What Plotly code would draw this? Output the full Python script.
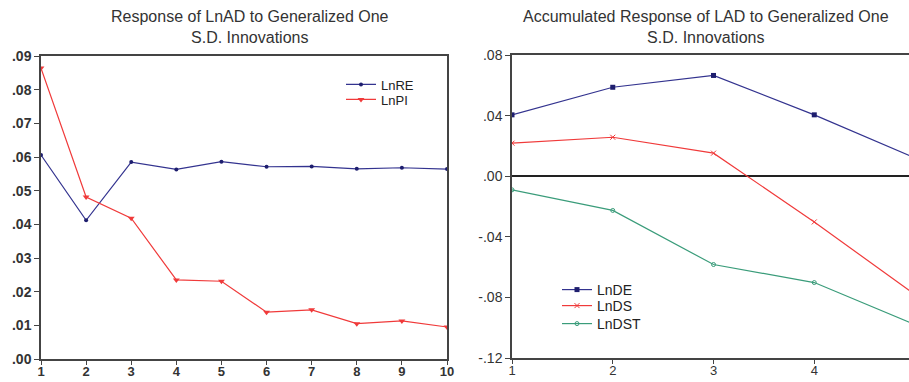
import plotly.graph_objects as go

# ---- data ----
periods_left = [1, 2, 3, 4, 5, 6, 7, 8, 9, 10]
lnre = [0.0606, 0.0412, 0.0585, 0.0563, 0.0586, 0.0571, 0.0572, 0.0565, 0.0568, 0.0564]
lnpi = [0.0864, 0.0481, 0.0418, 0.0235, 0.0231, 0.0139, 0.0146, 0.0105, 0.0113, 0.0095]

periods_right = [1, 2, 3, 4, 5]
lnde = [0.0405, 0.0587, 0.0665, 0.0405, 0.0120]
lnds = [0.0218, 0.0257, 0.0152, -0.0302, -0.0782]
lndst = [-0.0090, -0.0226, -0.0583, -0.0702, -0.0980]

left_yticks = [0.0, 0.01, 0.02, 0.03, 0.04, 0.05, 0.06, 0.07, 0.08, 0.09]
left_yticktext = [".00", ".01", ".02", ".03", ".04", ".05", ".06", ".07", ".08", ".09"]
right_yticks = [-0.12, -0.08, -0.04, 0.0, 0.04, 0.08]
right_yticktext = ["-.12", "-.08", "-.04", ".00", ".04", ".08"]

title_left = "Response of LnAD to Generalized One<br>S.D. Innovations"
title_right = "Accumulated Response of LAD to Generalized One<br>S.D. Innovations"

W, H = 909, 382
def px(x):
    return x / W
def py(y):
    return 1 - y / H

BLUE = "#33338F"
RED = "#F03A3A"
GREEN = "#3A9C7A"
FONT = "Liberation Sans, Arial, sans-serif"

fig = go.Figure()

fig.add_trace(go.Scatter(x=periods_left, y=lnre, name="LnRE", mode="lines+markers",
                         line=dict(color=BLUE, width=1.2),
                         marker=dict(symbol="circle", size=4, color="#1E1E6E"),
                         xaxis="x", yaxis="y", legend="legend"))
fig.add_trace(go.Scatter(x=periods_left, y=lnpi, name="LnPI", mode="lines+markers",
                         line=dict(color=RED, width=1.2),
                         marker=dict(symbol="triangle-down", size=6, color=RED),
                         xaxis="x", yaxis="y", legend="legend2"))

fig.add_trace(go.Scatter(x=periods_right, y=lnde, name="LnDE", mode="lines+markers",
                         line=dict(color=BLUE, width=1.2),
                         marker=dict(symbol="square", size=5, color="#1E1E6E"),
                         xaxis="x2", yaxis="y2", legend="legend3"))
fig.add_trace(go.Scatter(x=periods_right, y=lnds, name="LnDS", mode="lines+markers",
                         line=dict(color=RED, width=1.2),
                         marker=dict(symbol="x-thin", size=5, color=RED, line=dict(color=RED, width=1)),
                         xaxis="x2", yaxis="y2", legend="legend4"))
fig.add_trace(go.Scatter(x=periods_right, y=lndst, name="LnDST", mode="lines+markers",
                         line=dict(color=GREEN, width=1.2),
                         marker=dict(symbol="circle-open", size=4, color=GREEN, line=dict(color=GREEN, width=1)),
                         xaxis="x2", yaxis="y2", legend="legend5"))

axis_common = dict(showgrid=False, showline=True, linecolor="#444", linewidth=1.5,
                   ticks="outside", tickwidth=1, tickcolor="#444",
                   automargin=False)

def leg(xp, yp, size=14):
    return dict(x=px(xp), y=py(yp), xanchor="left", yanchor="middle", visible=True,
                bgcolor="rgba(0,0,0,0)", borderwidth=0,
                font=dict(family=FONT, size=size, color="#222"))

fig.update_layout(
    width=W, height=H, autosize=False,
    margin=dict(l=0, r=0, t=0, b=0, pad=0),
    paper_bgcolor="white", plot_bgcolor="white",
    font=dict(family=FONT, color="#333"),
    showlegend=True,
    xaxis=dict(domain=[px(41), px(447)], range=[1, 10], tickvals=periods_left,
               tickfont=dict(size=13, family=FONT, weight="bold", color="#333"),
               ticklen=4, ticklabelstandoff=-4,
               mirror=True, zeroline=False, anchor="y", **axis_common),
    yaxis=dict(domain=[py(359), py(56)], range=[0, 0.09], tickvals=left_yticks,
               ticktext=left_yticktext, ticklen=5,
               tickfont=dict(size=14, family=FONT, weight="bold", color="#333"),
               mirror=True, zeroline=False, anchor="x", **axis_common),
    xaxis2=dict(domain=[px(512), 1.0], range=[1, 4.94], tickvals=periods_right,
                tickfont=dict(size=13, family=FONT, color="#333"),
                ticklen=4, ticklabelstandoff=-4,
                mirror=True, zeroline=False, anchor="y2", **axis_common),
    yaxis2=dict(domain=[py(358), py(55)], range=[-0.12, 0.08], tickvals=right_yticks,
                ticktext=right_yticktext, ticklen=5,
                tickfont=dict(size=14, family=FONT, color="#333"),
                zeroline=True, zerolinecolor="#222", zerolinewidth=1.5,
                anchor="x2", **axis_common),
    legend=leg(341, 84.5, 13),
    legend2=leg(341, 99.5, 13),
    legend3=leg(557, 290),
    legend4=leg(557, 306),
    legend5=leg(557, 324),
    annotations=[
        dict(text=title_left, x=px(250), y=py(26.5), xref="paper", yref="paper",
             xanchor="center", yanchor="middle", showarrow=False,
             font=dict(family=FONT, size=16, color="#333")),
        dict(text=title_right, x=px(706), y=py(27), xref="paper", yref="paper",
             xanchor="center", yanchor="middle", showarrow=False,
             font=dict(family=FONT, size=16, color="#333")),
    ],
)

fig.write_html("out.html", config={"displayModeBar": False},
               post_script="document.body.style.margin='0px';")
